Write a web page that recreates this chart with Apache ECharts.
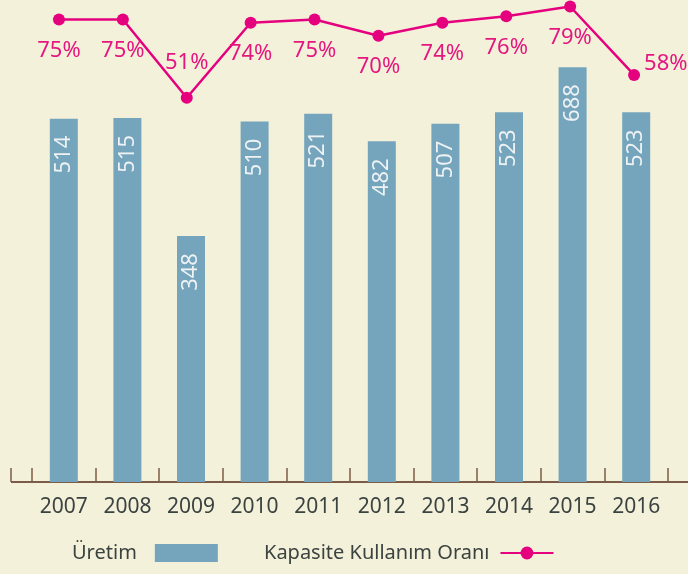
<!DOCTYPE html>
<html>
<head>
<meta charset="utf-8">
<script src="https://cdn.jsdelivr.net/npm/echarts@6/dist/echarts.min.js"></script>
<style>
    html, body { margin: 0; padding: 0; background: #f4f1db; }
    #chart { width: 688px; height: 574px; }
</style>
</head>
<body>
<div id="chart"></div>
<script>
    // veriler
    var years = ['2007', '2008', '2009', '2010', '2011', '2012', '2013', '2014', '2015', '2016'];
    var uretim = [514, 515, 348, 510, 521, 482, 507, 523, 688, 523];
    var kapasite = [75, 75, 51, 74, 75, 70, 74, 76, 79, 58];

    var barColor = '#74a5bd';
    var pink = '#e5007e';
    var axisColor = '#7b5c48';
    var font = '"Noto Sans", sans-serif';

    var chart = echarts.init(document.getElementById('chart'));

    // etiket konumu: çoğu noktanın altında, 2009 üstte, 2016 sağda
    var lineData = kapasite.map(function (v, i) {
        var item = {value: v};
        if (years[i] === '2009') {
            item.label = {position: 'top', distance: 18};
        } else if (years[i] === '2016') {
            item.label = {position: 'right', distance: 4, offset: [0, -11]};
        }
        return item;
    });

    chart.setOption({
        backgroundColor: '#f4f1db',
        animation: false,
        grid: [
            {left: 32, right: 20, top: 0, bottom: 92},
            {left: 27, right: 22, top: 0, bottom: 92}
        ],
        legend: [
            {
                data: [{name: 'Üretim', icon: 'rect'}],
                left: 72, top: 543, padding: 0,
                align: 'right',
                itemWidth: 63, itemHeight: 18,
                textStyle: {fontFamily: font, fontSize: 20, color: '#3b4340', padding: [0, 13, 0, 0]}
            },
            {
                data: ['Kapasite Kullanım Oranı'],
                left: 264, top: 543, padding: 0,
                align: 'right',
                itemWidth: 53, itemHeight: 16,
                textStyle: {fontFamily: font, fontSize: 20, color: '#3b4340', padding: [0, 6, 0, 0]}
            }
        ],
        xAxis: [
            {
                type: 'category', gridIndex: 0, data: years,
                axisLine: {show: false},
                axisTick: {show: true, inside: true, length: 14, lineStyle: {color: axisColor, width: 1.5}},
                axisLabel: {fontFamily: font, fontSize: 21, color: '#3b4340', margin: 15}
            },
            {
                type: 'category', gridIndex: 1, data: years, show: false
            }
        ],
        yAxis: [
            {
                type: 'value', gridIndex: 0, min: 0, max: 783, show: false,
                breaks: [{start: 530, end: 631, gap: 0}],
                breakArea: {show: false}
            },
            {
                type: 'value', gridIndex: 1, min: -67, max: 81, show: false
            }
        ],
        graphic: [
            {
                type: 'line', silent: true,
                shape: {x1: 11, y1: 482, x2: 688, y2: 482},
                style: {stroke: axisColor, lineWidth: 2}
            },
            {
                type: 'line', silent: true,
                shape: {x1: 11, y1: 468, x2: 11, y2: 482},
                style: {stroke: axisColor, lineWidth: 1.5}
            }
        ],
        series: [
            {
                name: 'Üretim',
                type: 'bar',
                xAxisIndex: 0, yAxisIndex: 0,
                data: uretim,
                barWidth: 28,
                itemStyle: {color: barColor},
                label: {
                    show: true,
                    position: 'insideTop',
                    distance: 17,
                    rotate: 90,
                    align: 'right',
                    verticalAlign: 'middle',
                    fontFamily: font,
                    fontSize: 22,
                    color: '#eef2f3'
                }
            },
            {
                name: 'Kapasite Kullanım Oranı',
                type: 'line',
                xAxisIndex: 1, yAxisIndex: 1,
                data: lineData,
                symbol: 'circle',
                symbolSize: 12,
                itemStyle: {color: pink},
                lineStyle: {color: pink, width: 2.5},
                label: {
                    show: true,
                    position: 'bottom',
                    distance: 14,
                    formatter: '{c}%',
                    fontFamily: font,
                    fontSize: 22,
                    color: '#e4177f'
                }
            }
        ]
    });
</script>
</body>
</html>
